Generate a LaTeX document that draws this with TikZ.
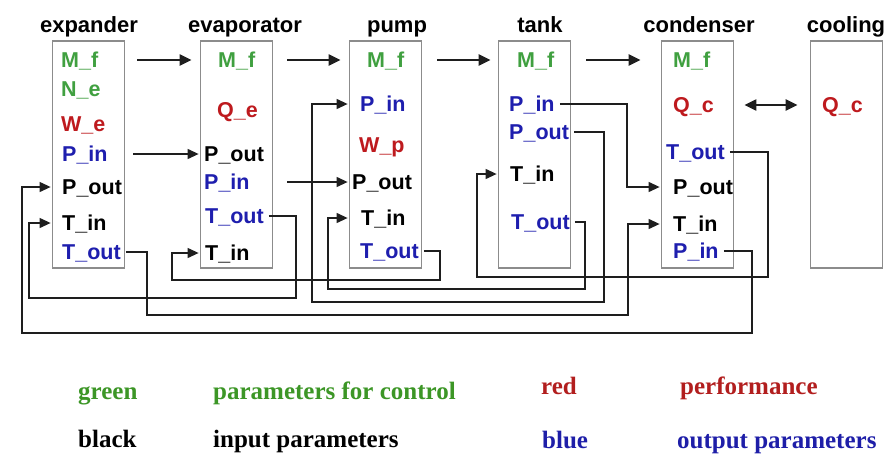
\documentclass[tikz,border=0pt]{standalone}
\usepackage{fontspec}
\setmainfont{Liberation Serif}
\setsansfont{Liberation Sans}
\usetikzlibrary{arrows.meta}
\definecolor{ctrlGreen}{HTML}{40A040}
\definecolor{perfRed}{HTML}{BE1A1E}
\definecolor{outBlue}{HTML}{1E1EAE}
\definecolor{boxDraw}{HTML}{8C8C8C}
\definecolor{lineDraw}{HTML}{1E1E1E}
\definecolor{legGreen}{HTML}{3C9626}
\definecolor{legRed}{HTML}{B21E1E}
\definecolor{legBlue}{HTML}{1E1EA8}
\tikzset{
  unit/.style  ={draw=boxDraw, fill=white, line width=1.8pt, minimum width=72pt, minimum height=227pt, inner sep=0pt},
  title/.style ={anchor=base, font=\sffamily\bfseries\fontsize{22}{24}\selectfont, inner sep=0pt},
  par/.style   ={anchor=west, font=\sffamily\bfseries\fontsize{21.5}{24}\selectfont, inner xsep=5pt, inner ysep=1pt, text height=15.5pt, text depth=0pt},
  ctrl/.style  ={par, text=ctrlGreen},
  perf/.style  ={par, text=perfRed},
  inp/.style   ={par, text=black},
  outp/.style  ={par, text=outBlue},
  flow/.style  ={-{Triangle[length=12pt,width=11pt]}, line width=2.2pt, lineDraw},
  bflow/.style ={{Triangle[length=12pt,width=11pt]}-{Triangle[length=12pt,width=11pt]}, line width=2.2pt, lineDraw},
  link/.style  ={-{Triangle[length=11pt,width=10pt]}, line width=1.2pt, lineDraw, shorten >=1pt},
  legend/.style={anchor=base west, font=\bfseries\fontsize{25}{28}\selectfont, inner sep=0pt},
}
\begin{document}
\begin{tikzpicture}[x=1pt,y=-1pt]
  \useasboundingbox (0,0) rectangle (886,458);
  % the six components
  \node[unit] (exp)  at (88.5,154.5) {};
  \node[unit] (eva)  at (236.5,154.5) {};
  \node[unit] (pum)  at (385.5,154.5) {};
  \node[unit] (tnk)  at (534.5,154.5) {};
  \node[unit] (con)  at (697.5,154.5) {};
  \node[unit] (cool) at (846.5,154.5) {};
  \node[title] (expT)  at (89,32)  {expander};
  \node[title] (evaT)  at (245,32) {evaporator};
  \node[title] (pumT)  at (397,32) {pump};
  \node[title] (tnkT)  at (540,32) {tank};
  \node[title] (conT)  at (699,32) {condenser};
  \node[title] (coolT) at (846,32) {cooling};

  % expander parameters
  \node[ctrl] (exMf)   at (56,60)  {M\_f};
  \node[ctrl] (exNe)   at (56,89)  {N\_e};
  \node[perf] (exWe)   at (56,124) {W\_e};
  \node[outp] (exPin)  at (57,154) {P\_in};
  \node[inp]  (exPout) at (57,187) {P\_out};
  \node[inp]  (exTin)  at (57,223) {T\_in};
  \node[outp] (exTout) at (57,252) {T\_out};
  % evaporator parameters
  \node[ctrl] (evMf)   at (213,60)  {M\_f};
  \node[perf] (evQe)   at (212,110) {Q\_e};
  \node[inp]  (evPout) at (199,154) {P\_out};
  \node[outp] (evPin)  at (199,182) {P\_in};
  \node[outp] (evTout) at (200,216) {T\_out};
  \node[inp]  (evTin)  at (200,253) {T\_in};
  % pump parameters
  \node[ctrl] (puMf)   at (362,60)  {M\_f};
  \node[outp] (puPin)  at (355,104) {P\_in};
  \node[perf] (puWp)   at (354,145) {W\_p};
  \node[inp]  (puPout) at (347,182) {P\_out};
  \node[inp]  (puTin)  at (356,218) {T\_in};
  \node[outp] (puTout) at (355,251) {T\_out};
  % tank parameters
  \node[ctrl] (tkMf)   at (512,60)  {M\_f};
  \node[outp] (tkPin)  at (504,104) {P\_in};
  \node[outp] (tkPout) at (504,132) {P\_out};
  \node[inp]  (tkTin)  at (505,174) {T\_in};
  \node[outp] (tkTout) at (506,222) {T\_out};
  % condenser parameters
  \node[ctrl] (coMf)   at (668,60)  {M\_f};
  \node[perf] (coQc)   at (668,105) {Q\_c};
  \node[outp] (coTout) at (661,152) {T\_out};
  \node[inp]  (coPout) at (668,187) {P\_out};
  \node[inp]  (coTin)  at (668,224) {T\_in};
  \node[outp] (coPin)  at (668,251) {P\_in};
  % cooling
  \node[perf] (clQc)   at (817,105) {Q\_c};

  % mass flow along the cycle
  \draw[flow] ([xshift=12pt]exp.east |- exMf) -- ([xshift=-8pt]eva.west |- exMf);
  \draw[flow] ([xshift=14pt]eva.east |- evMf) -- ([xshift=-8pt]pum.west |- evMf);
  \draw[flow] ([xshift=15pt]pum.east |- puMf) -- ([xshift=-7pt]tnk.west |- puMf);
  \draw[flow] ([xshift=15pt]tnk.east |- tkMf) -- ([xshift=-20pt]con.west |- tkMf);
  \draw[bflow] ([xshift=10pt]con.east |- coQc) -- ([xshift=-12pt]cool.west |- coQc);

  % pressure and temperature links
  \draw[link] ([xshift=8pt]exp.east |- exPin) -- (eva.west |- exPin);
  \draw[link] ([xshift=14pt]eva.east |- evPin) -- (pum.west |- evPin);
  \draw[link] (evTout.east) -| (296,298) -| (29,223) -- (exp.west |- exTin);
  \draw[link] (exTout.east) -| (147,315) -| (628,224) -- (con.west |- coTin);
  \draw[link] (coPin.east) -| (752,333) -| (22,187) -- (exp.west |- exPout);
  \draw[link] (puTout.east) -| (440,280) -| (172,253) -- (eva.west |- evTin);
  \draw[link] (tkTout.east) -| (585,289) -| (328,218) -- (pum.west |- puTin);
  \draw[link] (tkPout.east) -| (604,302) -| (312,104) -- (pum.west |- puPin);
  \draw[link] (tkPin.east) -| (627,187) -- (con.west |- coPout);
  \draw[link] (coTout.east) -| (768,277) -| (477,174) -- (tnk.west |- tkTin);

  % colour key
  \node[legend, text=legGreen] (kGreen)  at (78,399)  {green};
  \node[legend, text=legGreen] (kCtrl)   at (213,399) {parameters for control};
  \node[legend, text=legRed]   (kRed)    at (541,394) {red};
  \node[legend, text=legRed]   (kPerf)   at (680,394) {performance};
  \node[legend, text=black]    (kBlack)  at (78,447)  {black};
  \node[legend, text=black]    (kInp)    at (213,447) {input parameters};
  \node[legend, text=legBlue]  (kBlue)   at (542,448) {blue};
  \node[legend, text=legBlue]  (kOutp)   at (677,448) {output parameters};
\end{tikzpicture}
\end{document}
